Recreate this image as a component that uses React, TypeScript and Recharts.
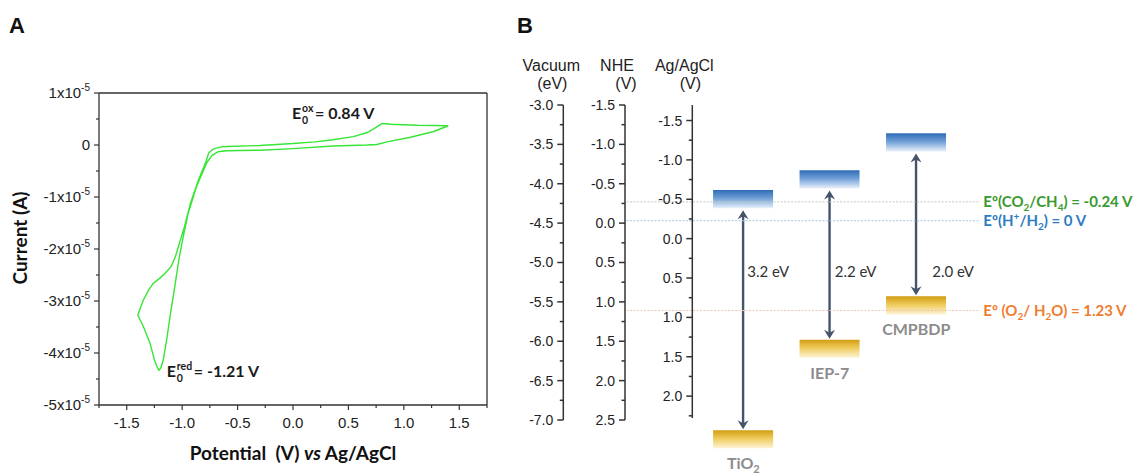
import React from 'react'
import {
  LineChart, Line, ComposedChart, Bar, XAxis, YAxis,
  ReferenceLine, ReferenceDot, Label,
} from 'recharts'

// ---------- panel A: cyclic voltammogram ----------
// potential in V vs Ag/AgCl, current in units of 1x10^-5 A (traced in sweep order)
const potential = [
  0.0, 0.2, 0.36, 0.545, 0.67, 0.72, 0.756, 0.8, 0.84, 0.88, 1.12, 1.4,
  1.27, 1.06, 0.85, 0.756, 0.67, 0.36, 0.0, -0.3, -0.6, -0.675, -0.73, -0.78,
  -0.87, -0.945, -0.99, -1.03, -1.066, -1.105, -1.14, -1.17, -1.19, -1.21,
  -1.23, -1.25, -1.29, -1.35, -1.4,
  -1.35, -1.3, -1.26, -1.2, -1.156, -1.1, -1.06, -0.979, -0.925, -0.852,
  -0.785, -0.76, -0.72, -0.66, -0.6, -0.3, 0.0,
]
const current = [
  0.03, 0.06, 0.1, 0.16, 0.24, 0.3, 0.35, 0.41, 0.41, 0.4, 0.38, 0.37,
  0.26, 0.15, 0.06, 0.01, 0.0, -0.02, -0.07, -0.1, -0.11, -0.13, -0.2, -0.35,
  -0.8, -1.31, -1.76, -2.21, -2.72, -3.24, -3.75, -4.13, -4.28, -4.33,
  -4.25, -4.13, -3.81, -3.49, -3.27,
  -2.98, -2.78, -2.66, -2.56, -2.47, -2.34, -2.14, -1.57, -1.12, -0.67,
  -0.32, -0.15, -0.08, -0.04, -0.03, -0.01, 0.03,
]
const cvXTicks = [-1.75, -1.5, -1.25, -1, -0.75, -0.5, -0.25, 0, 0.25, 0.5, 0.75, 1, 1.25, 1.5, 1.75]
const cvYTicks = [-5, -4.5, -4, -3.5, -3, -2.5, -2, -1.5, -1, -0.5, 0, 0.5, 1]
const oxPeak = { v: 0.84, i: 0.41, label: '= 0.84 V' }
const redPeak = { v: -1.21, i: -4.33, label: '= -1.21 V' }

const cvData = potential.map((v, k) => ({ v, i: current[k] }))

// ---------- panel B: band positions (V vs NHE) ----------
const materials = ['TiO2', 'IEP-7', 'CMPBDP']
const cbEdge = [-0.19, -0.44, -0.91]
const vbEdge = [2.63, 1.48, 0.93]
const gapLabels = ['3.2 eV', '2.2 eV', '2.0 eV']
const redoxLevels = [-0.27, -0.03, 1.11]
const vacuumTicks = [-7, -6.75, -6.5, -6.25, -6, -5.75, -5.5, -5.25, -5, -4.75, -4.5, -4.25, -4, -3.75, -3.5, -3.25, -3]
const nheTicks = [-1.5, -1.25, -1, -0.75, -0.5, -0.25, 0, 0.25, 0.5, 0.75, 1, 1.25, 1.5, 1.75, 2, 2.25, 2.5]
const agTicks = [-1.5, -1.25, -1, -0.75, -0.5, -0.25, 0, 0.25, 0.5, 0.75, 1, 1.25, 1.5, 1.75, 2, 2.25]
const AG_OFFSET = 0.197 // E(Ag/AgCl) = E(NHE) - 0.197
const VAC_OFFSET = -4.5 // E(vacuum) = -4.5 - E(NHE)

// text runs: 0 = normal, 1 = subscript, -1 = superscript
type Run = [string, number]
const redoxText: Run[][] = [
  [['Eº(CO', 0], ['2', 1], ['/CH', 0], ['4', 1], [') = -0.24 V', 0]],
  [['Eº(H', 0], ['+', -1], ['/H', 0], ['2', 1], [') = 0 V', 0]],
  [['Eº (O', 0], ['2', 1], ['/ H', 0], ['2', 1], ['O) = 1.23 V', 0]],
]
const redoxColor = ['#3a9a2e', '#2e7cc2', '#ee7d30']
const redoxStroke = ['#c3cbc0', '#a4c8e6', '#f0c6b2']

const BAND = 0.23
const NHE_DOMAIN = [-1.5, 3.135]

const bandData = materials.map((m, k) => ({
  k,
  name: m,
  cb: [cbEdge[k] - BAND, cbEdge[k]],
  vb: [vbEdge[k], vbEdge[k] + BAND],
  gap: [cbEdge[k], vbEdge[k]],
}))

const CAL = 'Lato, "Open Sans", sans-serif'
const ARIAL = '"Liberation Sans", Arial, sans-serif'
const AXIS = '#333'
const ARROW = '#45546b'

const isMajor = (v: number) => Math.abs(v * 2 - Math.round(v * 2)) < 1e-6

function runs(parts: Run[], small: number) {
  let shift = 0
  return parts.map(([t, s], k) => {
    const target = s === 1 ? 4 : s === -1 ? -6 : 0
    const dy = target - shift
    shift = target
    return (
      <tspan key={k} dy={dy} fontSize={s === 0 ? undefined : small}>{t}</tspan>
    )
  })
}

function CvXTick({ x, y, payload }: any) {
  const v = payload.value
  const major = isMajor(v)
  return (
    <g>
      <line x1={x} x2={x} y1={y} y2={y + (major ? 5 : 3)} stroke={AXIS} strokeWidth={1.2} />
      {major && (
        <text x={x} y={y + 23} textAnchor="middle" fontSize={15} fontFamily={ARIAL} fill="#222">
          {v.toFixed(1)}
        </text>
      )}
    </g>
  )
}

function CvYTick({ x, y, payload }: any) {
  const v = payload.value
  const major = Number.isInteger(v)
  return (
    <g>
      <line x1={x - (major ? 5 : 3)} x2={x} y1={y} y2={y} stroke={AXIS} strokeWidth={1.2} />
      {major && (
        <text x={x - 9} y={y + 5} textAnchor="end" fontSize={15} fontFamily={ARIAL} fill="#222">
          {v === 0 ? '0' : (
            <>
              {`${v}x10`}
              <tspan dy={-7} fontSize={10}>-5</tspan>
            </>
          )}
        </text>
      )}
    </g>
  )
}

function LevelTick({ x, y, payload }: any) {
  const v = payload.value
  const major = isMajor(v)
  return (
    <g>
      <line x1={x - (major ? 6 : 3.5)} x2={x} y1={y} y2={y} stroke={AXIS} strokeWidth={1.5} />
      {major && (
        <text x={x - 10} y={y + 5} textAnchor="end" fontSize={14} fontFamily={ARIAL} fill="#222">
          {v.toFixed(1)}
        </text>
      )}
    </g>
  )
}

function axisTitle(line1: string, line2: string, dx1: number, dx2: number) {
  return ({ viewBox }: any) => {
    const lx = viewBox.x + viewBox.width
    return (
      <g fontFamily={ARIAL} fontSize={16} fill="#222">
        <text x={lx + dx1} y={71} textAnchor="middle">{line1}</text>
        <text x={lx + dx2} y={89} textAnchor="middle">{line2}</text>
      </g>
    )
  }
}

function PeakLabel({ cx, cy, text, sup, side }: any) {
  // side 'left': text ends left of the peak; 'right': text starts right of it
  const x0 = side === 'left' ? cx - 94 : cx + 8
  const y0 = side === 'left' ? cy - 5 : cy + 7
  return (
    <g fontFamily={CAL} fontWeight={700} fill="#1a1a1a">
      <text x={x0} y={y0} fontSize={16}>E</text>
      <text x={x0 + 10} y={y0 - 7} fontSize={10.5}>{sup}</text>
      <text x={x0 + 10} y={y0 + 5} fontSize={10.5}>0</text>
      <text x={x0 + (sup === 'ox' ? 23 : 27)} y={y0} fontSize={16}>{text}</text>
    </g>
  )
}

function GapArrow(p: any) {
  const x = p.x + p.width / 2
  const top = Math.min(p.y, p.y + p.height) + 2
  const bot = Math.max(p.y, p.y + p.height) - 1
  const head = (tip: number, dir: number) =>
    `M${x},${tip} L${x - 5.5},${tip + dir * 9} L${x},${tip + dir * 6} L${x + 5.5},${tip + dir * 9} Z`
  return (
    <g>
      <line x1={x} x2={x} y1={top + 5} y2={bot - 5} stroke={ARROW} strokeWidth={2.4} />
      <path d={head(top, 1)} fill={ARROW} />
      <path d={head(bot, -1)} fill={ARROW} />
    </g>
  )
}

function levelShape(k: number) {
  return (p: any) => (
    <g>
      <line x1={p.x1} y1={p.y1} x2={p.x2} y2={p.y2} stroke={redoxStroke[k]} strokeWidth={1} strokeDasharray="2 1.5" />
      <text x={p.x2 + 3} y={p.y2 + 5} fontFamily={CAL} fontWeight={700} fontSize={15} fill={redoxColor[k]}>
        {runs(redoxText[k], 10)}
      </text>
    </g>
  )
}

function CvPanel() {
  return (
    <LineChart width={500} height={475} data={cvData} margin={{ top: 93, right: 13, bottom: 30, left: 29 }}>
      <XAxis
        dataKey="v" type="number" domain={[-1.75, 1.75]} ticks={cvXTicks} interval={0}
        allowDataOverflow tickSize={0} tickMargin={0} height={40} tick={CvXTick}
        axisLine={{ stroke: AXIS, strokeWidth: 1.3 }}
      >
        <Label
          content={({ viewBox }: any) => (
            <text x={viewBox.x + viewBox.width / 2} y={viewBox.y + 55} textAnchor="middle"
              fontFamily={CAL} fontWeight={700} fontSize={19} fill="#111">
              {'Potential\u00a0 (V) '}<tspan fontStyle="italic">vs</tspan>{' Ag/AgCl'}
            </text>
          )}
        />
      </XAxis>
      <YAxis
        type="number" domain={[-5, 1]} ticks={cvYTicks} interval={0} allowDataOverflow
        tickSize={0} tickMargin={0} width={70} tick={CvYTick}
        axisLine={{ stroke: AXIS, strokeWidth: 1.3 }}
      >
        <Label
          content={({ viewBox }: any) => {
            const cx = viewBox.x - 8.5
            const cy = 238
            return (
              <text x={cx} y={cy} transform={`rotate(-90 ${cx} ${cy})`} textAnchor="middle" dy={6}
                fontFamily={CAL} fontWeight={700} fontSize={19} fill="#111">
                Current (A)
              </text>
            )
          }}
        />
      </YAxis>
      {/* closing frame: top and right edges of the plot box */}
      <ReferenceLine y={1} stroke={AXIS} strokeWidth={1.3} ifOverflow="visible" />
      <ReferenceLine x={1.75} stroke={AXIS} strokeWidth={1.3} ifOverflow="visible" />
      <Line type="linear" dataKey="i" stroke="#36e636" strokeWidth={1.4} dot={false}
        isAnimationActive={false} />
      <ReferenceDot x={oxPeak.v} y={oxPeak.i} r={0} ifOverflow="visible"
        shape={(p: any) => <PeakLabel cx={p.cx} cy={p.cy} text={oxPeak.label} sup="ox" side="left" />} />
      <ReferenceDot x={redPeak.v} y={redPeak.i} r={0} ifOverflow="visible"
        shape={(p: any) => <PeakLabel cx={p.cx} cy={p.cy} text={redPeak.label} sup="red" side="right" />} />
    </LineChart>
  )
}

function BandPanel() {
  const xDomain = [-0.59, 2.76]
  return (
    <ComposedChart width={639} height={475} data={bandData} margin={{ top: 105, right: 157, bottom: 5, left: 13.3 }}>
      <defs>
        <linearGradient id="cbFill" x1="0" y1="0" x2="0" y2="1">
          <stop offset="0%" stopColor="#2f6cb6" />
          <stop offset="45%" stopColor="#6f9fd6" />
          <stop offset="100%" stopColor="#e9f1fa" />
        </linearGradient>
        <linearGradient id="vbFill" x1="0" y1="0" x2="0" y2="1">
          <stop offset="0%" stopColor="#d29d12" />
          <stop offset="45%" stopColor="#efcb5c" />
          <stop offset="100%" stopColor="#fdf4d6" />
        </linearGradient>
      </defs>
      <XAxis xAxisId="cb" dataKey="k" type="number" domain={xDomain} allowDataOverflow hide />
      <XAxis xAxisId="vb" dataKey="k" type="number" domain={xDomain} allowDataOverflow hide />
      <XAxis xAxisId="gap" dataKey="k" type="number" domain={xDomain} allowDataOverflow hide />
      <YAxis
        yAxisId="ag" type="number" domain={[NHE_DOMAIN[0] - AG_OFFSET, NHE_DOMAIN[1] - AG_OFFSET]} reversed allowDataOverflow
        ticks={agTicks} interval={0} width={67.3} tickSize={0} tickMargin={0} tick={LevelTick}
        axisLine={{ stroke: AXIS, strokeWidth: 1.5, strokeDasharray: '313 400' }}
      >
        <Label content={axisTitle('Ag/AgCl', '(V)', -8, -2)} />
      </YAxis>
      <YAxis
        yAxisId="nhe" type="number" domain={NHE_DOMAIN} reversed allowDataOverflow
        ticks={nheTicks} interval={0} width={61.7} tickSize={0} tickMargin={0} tick={LevelTick}
        axisLine={{ stroke: AXIS, strokeWidth: 1.5, strokeDasharray: '315 400' }}
      >
        <Label content={axisTitle('NHE', '(V)', -8, 1)} />
      </YAxis>
      <YAxis
        yAxisId="vac" type="number" domain={[VAC_OFFSET - NHE_DOMAIN[1], VAC_OFFSET - NHE_DOMAIN[0]]} allowDataOverflow
        ticks={vacuumTicks} interval={0} width={50} tickSize={0} tickMargin={0} tick={LevelTick}
        axisLine={{ stroke: AXIS, strokeWidth: 1.5, strokeDasharray: '315 400' }}
      >
        <Label content={axisTitle('Vacuum', '(eV)', -12, -11)} />
      </YAxis>

      {redoxLevels.map((lv, k) => (
        <ReferenceLine key={`lv${k}`} xAxisId="cb" yAxisId="nhe" ifOverflow="visible"
          segment={[{ x: -1.35, y: lv }, { x: 2.74, y: lv }]} shape={levelShape(k)} />
      ))}

      <Bar xAxisId="cb" yAxisId="nhe" dataKey="cb" barSize={60} fill="url(#cbFill)" isAnimationActive={false} />
      <Bar xAxisId="vb" yAxisId="nhe" dataKey="vb" barSize={60} fill="url(#vbFill)" isAnimationActive={false} />
      <Bar xAxisId="gap" yAxisId="nhe" dataKey="gap" barSize={12} shape={GapArrow} isAnimationActive={false} />

      {materials.map((m, k) => (
        <ReferenceDot key={`gl${m}`} xAxisId="cb" yAxisId="nhe" ifOverflow="visible"
          x={k} y={0.62} r={0}
          shape={(p: any) => (
            <text x={p.cx + [4, 5, 16][k]} y={p.cy + 5} fontFamily={CAL} fontSize={15} fill="#333">
              {gapLabels[k]}
            </text>
          )} />
      ))}
      {materials.map((m, k) => (
        <ReferenceDot key={`nm${m}`} xAxisId="cb" yAxisId="nhe" ifOverflow="visible"
          x={k} y={vbEdge[k] + BAND} r={0}
          shape={(p: any) => (
            <text x={p.cx} y={p.cy + 21} textAnchor="middle" fontFamily={CAL} fontWeight={700}
              fontSize={16} fill="#8c8c8c">
              {m === 'TiO2' ? runs([['TiO', 0], ['2', 1]], 11) : m}
            </text>
          )} />
      ))}
    </ComposedChart>
  )
}

export default function App() {
  return (
    <div style={{ position: 'absolute', left: 0, top: 0, width: 1139, height: 475, background: '#fff' }}>
      <div style={{ position: 'absolute', left: 0, top: 0 }}>
        <CvPanel />
      </div>
      <div style={{ position: 'absolute', left: 500, top: 0 }}>
        <BandPanel />
      </div>
      <svg width={1139} height={475} style={{ position: 'absolute', left: 0, top: 0, pointerEvents: 'none' }}>
        <text x={9} y={33} fontFamily={ARIAL} fontWeight={700} fontSize={22} fill="#111">A</text>
        <text x={517} y={33} fontFamily={ARIAL} fontWeight={700} fontSize={22} fill="#111">B</text>
      </svg>
    </div>
  )
}
